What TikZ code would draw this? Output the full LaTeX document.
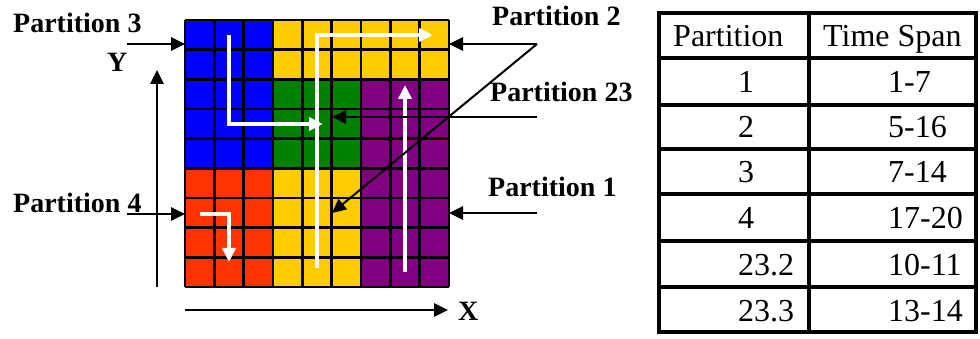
\documentclass[tikz,border=0pt]{standalone}
\usepackage{fontspec}
\setmainfont{Liberation Serif}
\usetikzlibrary{arrows.meta}

\definecolor{pblue}{HTML}{0000FF}
\definecolor{pyellow}{HTML}{FFCC00}
\definecolor{pgreen}{HTML}{008000}
\definecolor{ppurple}{HTML}{800080}
\definecolor{pred}{HTML}{FF3300}

\tikzset{
  lbl/.style={anchor=base west, inner sep=0pt, font=\fontsize{28}{32}\selectfont\bfseries},
  tbl/.style={anchor=base west, inner sep=0pt, font=\fontsize{32}{36}\selectfont},
  pointer/.style={line width=2.6pt, -{Triangle[length=14pt,width=13pt]}},
  thinpointer/.style={line width=2pt, -{Triangle[length=14pt,width=13pt]}},
  flow/.style={white, line width=3.5pt, line join=miter, -{Triangle[length=14pt,width=13pt]}},
  gridline/.style={line width=2.8pt, black},
  tblline/.style={line width=3.2pt, black}
}

\begin{document}
\begin{tikzpicture}[x=1pt, y=-1pt]
\useasboundingbox (0,0) rectangle (980,339);

% ---- partition grid: 9 x 9 cells ----
\def\cw{29.333}
\def\ch{29.667}
\def\gx{185}
\def\gy{20}
% coloured regions (col range, row range)
\fill[pblue]   (\gx+0*\cw,\gy+0*\ch) rectangle (\gx+3*\cw,\gy+5*\ch);
\fill[pred]    (\gx+0*\cw,\gy+5*\ch) rectangle (\gx+3*\cw,\gy+9*\ch);
\fill[pyellow] (\gx+3*\cw,\gy+0*\ch) rectangle (\gx+9*\cw,\gy+2*\ch);
\fill[pgreen]  (\gx+3*\cw,\gy+2*\ch) rectangle (\gx+6*\cw,\gy+5*\ch);
\fill[pyellow] (\gx+3*\cw,\gy+5*\ch) rectangle (\gx+6*\cw,\gy+9*\ch);
\fill[ppurple] (\gx+6*\cw,\gy+2*\ch) rectangle (\gx+9*\cw,\gy+9*\ch);
\foreach \i in {0,...,9} {
  \draw[gridline] (\gx+\i*\cw,\gy) -- (\gx+\i*\cw,\gy+9*\ch);
  \draw[gridline] (\gx,\gy+\i*\ch) -- (\gx+9*\cw,\gy+\i*\ch);
}

% ---- traversal paths ----
\coordinate (b1) at (229,35);
\coordinate (b2) at (229,124);
\coordinate (b3) at (323,124);
\draw[flow] (b1) -- (b2) -- (b3);
\coordinate (y1) at (317,268);
\coordinate (y2) at (317,35);
\coordinate (y3) at (433,35);
\draw[flow] (y1) -- (y2) -- (y3);
\coordinate (v1) at (405,272);
\coordinate (v2) at (405,85);
\draw[flow] (v1) -- (v2);
\coordinate (r1) at (200,214);
\coordinate (r2) at (229,214);
\coordinate (r3) at (229,262);
\draw[flow] (r1) -- (r2) -- (r3);

% ---- labels ----
\node[lbl] (p3)  at (13,33)   {Partition 3};
\node[lbl] (ylab) at (107,72) {Y};
\node[lbl] (p2)  at (492,26)  {Partition 2};
\node[lbl] (p23) at (490,102) {Partition 23};
\node[lbl] (p1)  at (488,197) {Partition 1};
\node[lbl] (p4)  at (13,213)  {Partition 4};
\node[lbl] (xlab) at (458,320) {X};

% ---- pointer arrows ----
\coordinate (p3s) at (127,44);   \coordinate (p3e) at (185,44);
\coordinate (p4s) at (127,214);  \coordinate (p4e) at (185,214);
\coordinate (p2s) at (537,44);   \coordinate (p2e) at (449,44);
\coordinate (p2d) at (332,213);
\coordinate (p23s) at (537,117); \coordinate (p23e) at (332,117);
\coordinate (p1s) at (537,213);  \coordinate (p1e) at (449,213);
\draw[pointer] (p3s) -- (p3e);
\draw[pointer] (p4s) -- (p4e);
\draw[pointer] (p2s) -- (p2e);
\draw[thinpointer] (p2s) -- (p2d);
\draw[pointer] (p23s) -- (p23e);
\draw[pointer] (p1s) -- (p1e);

% axes
\coordinate (ya) at (157,287); \coordinate (yb) at (157,70);
\coordinate (xa) at (185,310); \coordinate (xb) at (448,310);
\draw[pointer] (ya) -- (yb);
\draw[pointer] (xa) -- (xb);

% ---- time span table ----
\def\tl{659}
\def\tm{809}
\def\tr{976}
\draw[tblline] (\tl,13) rectangle (\tr,332);
\draw[tblline] (\tm,13) -- (\tm,332);
\foreach \yy in {58,105,149,194,241,287} {
  \draw[tblline] (\tl,\yy) -- (\tr,\yy);
}
\node[tbl] (h1) at (673,47) {Partition};
\node[tbl] (h2) at (823,47) {Time Span};
\node[tbl] (a1) at (738,93)  {1};    \node[tbl] (b1t) at (888,93)  {1-7};
\node[tbl] (a2) at (738,138) {2};    \node[tbl] (b2t) at (888,138) {5-16};
\node[tbl] (a3) at (738,183) {3};    \node[tbl] (b3t) at (888,183) {7-14};
\node[tbl] (a4) at (738,229) {4};    \node[tbl] (b4t) at (888,229) {17-20};
\node[tbl] (a5) at (738,275) {23.2}; \node[tbl] (b5t) at (888,275) {10-11};
\node[tbl] (a6) at (738,321) {23.3}; \node[tbl] (b6t) at (888,321) {13-14};
\end{tikzpicture}
\end{document}
